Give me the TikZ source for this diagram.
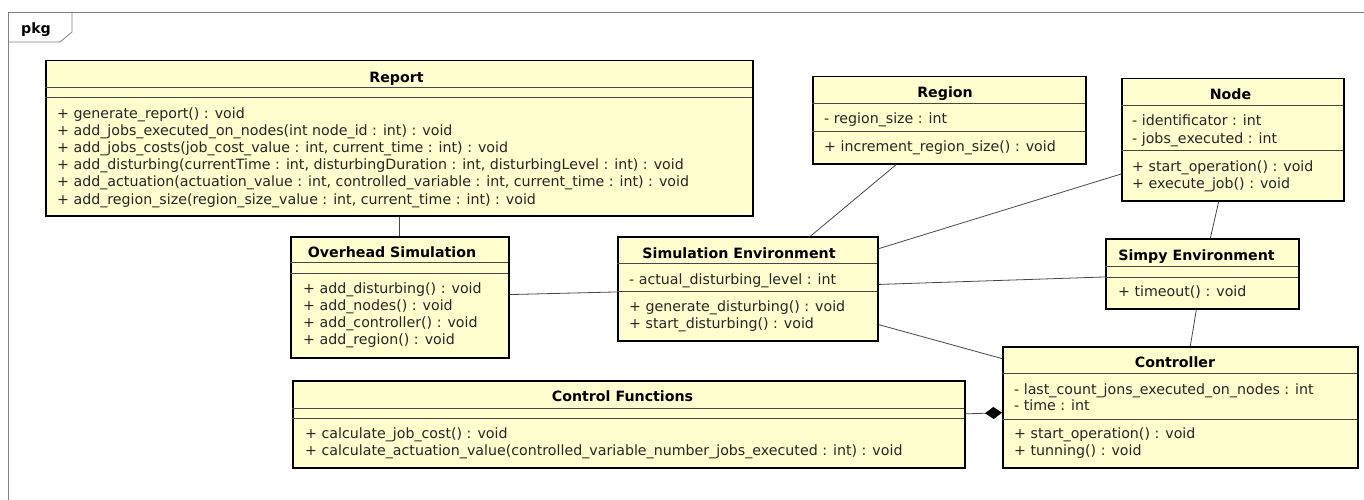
\documentclass[tikz,border=0pt]{standalone}
\usepackage{fontspec}
\setmainfont{DejaVu Sans}
\usepackage{tikz}
\usetikzlibrary{arrows.meta, shadows}
\definecolor{classfill}{RGB}{254, 254, 206}
\definecolor{framegray}{gray}{0.5}
\definecolor{linegray}{gray}{0.28}
\definecolor{textgray}{gray}{0.15}

\tikzset{
  classbox/.style={draw=black, fill=classfill, line width=1.5pt, anchor=north west,
    inner sep=0pt, drop shadow={shadow xshift=1.5pt, shadow yshift=-1.5pt, opacity=0.3}},
  sep/.style={draw=linegray, line width=0.8pt},
  classname/.style={anchor=base, inner sep=0pt, font=\fontsize{14.2}{17}\selectfont\bfseries},
  member/.style={anchor=base west, inner sep=0pt, text=textgray},
  assoc/.style={draw=linegray, line width=0.8pt}
}

\begin{document}
\begin{tikzpicture}[x=1pt, y=-1pt, font=\fontsize{14.2}{17}\selectfont]
  \useasboundingbox (0, 0) rectangle (1364, 500);

  % package frame and tab
  \draw[framegray, line width=0.8pt] (8, 500) -- (8, 12) -- (1364, 12);
  \draw[framegray, line width=0.8pt] (8, 42) -- (60, 42) -- (72, 32) -- (72, 12);
  \node[classname] (pkg) at (36, 34) {pkg};

  % Report
  \node[classbox, minimum width=707pt, minimum height=155pt] (rep) at (45, 60) {};
  \node[classname] (rep-t) at (396.5, 83) {Report};
  \draw[sep] (45, 87) -- (752, 87);
  \draw[sep] (45, 97) -- (752, 97);
  \node[member] (rep-m1) at (57, 118) {+ generate\_report() : void};
  \node[member] (rep-m2) at (57, 135.2) {+ add\_jobs\_executed\_on\_nodes(int node\_id : int) : void};
  \node[member] (rep-m3) at (57, 152.4) {+ add\_jobs\_costs(job\_cost\_value : int, current\_time : int) : void};
  \node[member] (rep-m4) at (57, 169.6) {+ add\_disturbing(currentTime : int, disturbingDuration : int, disturbingLevel : int) : void};
  \node[member] (rep-m5) at (57, 186.8) {+ add\_actuation(actuation\_value : int, controlled\_variable : int, current\_time : int) : void};
  \node[member] (rep-m6) at (57, 204) {+ add\_region\_size(region\_size\_value : int, current\_time : int) : void};

  % Region
  \node[classbox, minimum width=273pt, minimum height=87pt] (reg) at (812, 76) {};
  \node[classname] (reg-t) at (945, 97.5) {Region};
  \draw[sep] (812, 103) -- (1085, 103);
  \node[member] (reg-a1) at (824, 124) {- region\_size : int};
  \draw[sep] (812, 131) -- (1085, 131);
  \node[member] (reg-m1) at (824, 151) {+ increment\_region\_size() : void};

  % Node
  \node[classbox, minimum width=222pt, minimum height=122pt] (nod) at (1121, 78) {};
  \node[classname] (nod-t) at (1230.5, 99.5) {Node};
  \draw[sep] (1121, 105) -- (1343, 105);
  \node[member] (nod-a1) at (1132, 125.5) {- identificator : int};
  \node[member] (nod-a2) at (1132, 143) {- jobs\_executed : int};
  \draw[sep] (1121, 150) -- (1343, 150);
  \node[member] (nod-m1) at (1132, 171) {+ start\_operation() : void};
  \node[member] (nod-m2) at (1132, 188.5) {+ execute\_job() : void};

  % Overhead Simulation
  \node[classbox, minimum width=218pt, minimum height=121pt] (ovh) at (290, 236) {};
  \node[classname] (ovh-t) at (392, 257.5) {Overhead Simulation};
  \draw[sep] (290, 262) -- (508, 262);
  \draw[sep] (290, 273) -- (508, 273);
  \node[member] (ovh-m1) at (303, 293.5) {+ add\_disturbing() : void};
  \node[member] (ovh-m2) at (303, 310.5) {+ add\_nodes() : void};
  \node[member] (ovh-m3) at (303, 327.5) {+ add\_controller() : void};
  \node[member] (ovh-m4) at (303, 344.5) {+ add\_region() : void};

  % Simulation Environment
  \node[classbox, minimum width=260pt, minimum height=104pt] (sim) at (617, 236) {};
  \node[classname] (sim-t) at (739, 258.5) {Simulation Environment};
  \draw[sep] (617, 263) -- (877, 263);
  \node[member] (sim-a1) at (629, 284) {- actual\_disturbing\_level : int};
  \draw[sep] (617, 291) -- (877, 291);
  \node[member] (sim-m1) at (629, 311) {+ generate\_disturbing() : void};
  \node[member] (sim-m2) at (629, 328) {+ start\_disturbing() : void};

  % Simpy Environment
  \node[classbox, minimum width=193pt, minimum height=70pt] (spy) at (1105, 238) {};
  \node[classname] (spy-t) at (1196.5, 260) {Simpy Environment};
  \draw[sep] (1105, 266) -- (1298, 266);
  \draw[sep] (1105, 277) -- (1298, 277);
  \node[member] (spy-m1) at (1118, 296) {+ timeout() : void};

  % Controller
  \node[classbox, minimum width=355pt, minimum height=121pt] (ctl) at (1002, 346) {};
  \node[classname] (ctl-t) at (1175, 367) {Controller};
  \draw[sep] (1002, 373) -- (1357, 373);
  \node[member] (ctl-a1) at (1014, 394) {- last\_count\_jons\_executed\_on\_nodes : int};
  \node[member] (ctl-a2) at (1014, 410.5) {- time : int};
  \draw[sep] (1002, 419) -- (1357, 419);
  \node[member] (ctl-m1) at (1014, 438) {+ start\_operation() : void};
  \node[member] (ctl-m2) at (1014, 455) {+ tunning() : void};

  % Control Functions
  \node[classbox, minimum width=672pt, minimum height=87pt] (cfn) at (292, 380) {};
  \node[classname] (cfn-t) at (622.5, 401.5) {Control Functions};
  \draw[sep] (292, 408) -- (964, 408);
  \draw[sep] (292, 418) -- (964, 418);
  \node[member] (cfn-m1) at (305, 438) {+ calculate\_job\_cost() : void};
  \node[member] (cfn-m2) at (305, 455) {+ calculate\_actuation\_value(controlled\_variable\_number\_jobs\_executed : int) : void};

  % associations
  \draw[assoc] (rep) -- (ovh);
  \draw[assoc] (ovh) -- (sim);
  \draw[assoc] (reg) -- (sim);
  \draw[assoc] (sim) -- (nod);
  \draw[assoc] (nod) -- (spy);
  \draw[assoc] (sim) -- (spy);
  \draw[assoc] (spy) -- (ctl);
  \draw[assoc] (sim) -- (ctl);
  \draw[assoc, -{Diamond[length=17pt, width=12pt, fill=black, color=black]}] (cfn) -- (ctl);
\end{tikzpicture}
\end{document}
